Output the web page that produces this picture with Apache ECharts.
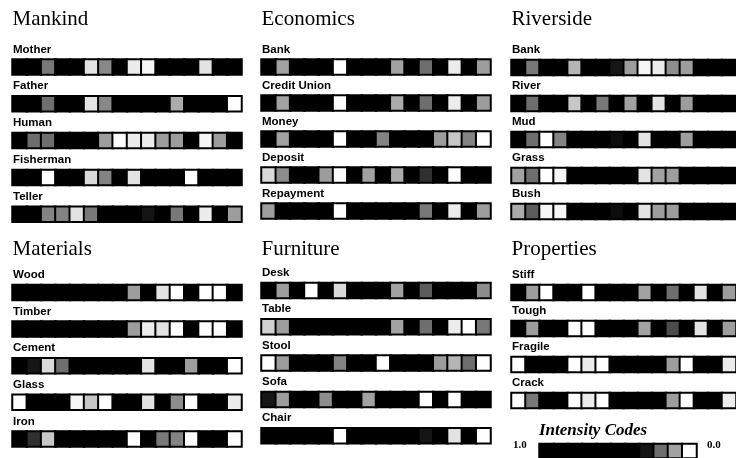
<!DOCTYPE html>
<html>
<head>
<meta charset="utf-8">
<script src="https://cdn.jsdelivr.net/npm/echarts@6/dist/echarts.min.js"></script>
<style>html,body{margin:0;padding:0;background:#fff;}#c{width:736px;height:458px;}</style>
</head>
<body>
<div id="c"></div>
<script>
// ---- data (intensity per unit: 1.0 = black, 0.0 = white) ----
const panelTitles = ['Mankind', 'Economics', 'Riverside', 'Materials', 'Furniture', 'Properties'];

const mankindWords = ['Mother', 'Father', 'Human', 'Fisherman', 'Teller'];
const mankindValues = [
  [1,1,0.18,1,1,0.03,0.15,1,0.02,0.01,1,1,1,0.03,1,1],
  [1,1,0.2,1,1,0.03,0.15,1,1,1,1,0.09,1,1,1,0],
  [1,0.2,0.2,1,1,1,0.11,0,0.02,0.02,0.11,0.11,1,0.01,0.11,1],
  [1,1,0,1,1,0.04,0.16,1,0.03,1,1,1,0,1,1,1],
  [1,1,0.16,0.16,0.03,0.18,1,1,1,0.31,1,0.18,1,0.02,1,0.11]
];

const economicsWords = ['Bank', 'Credit Union', 'Money', 'Deposit', 'Repayment'];
const economicsValues = [
  [1,0.1,1,1,1,0,1,1,1,0.1,1,0.2,1,0.02,1,0.11],
  [1,0.1,1,1,1,0,1,1,1,0.09,1,0.2,1,0.02,1,0.11],
  [1,0.1,1,1,1,0,1,1,0.16,1,1,1,0.11,0.06,0.16,0],
  [0.04,0.14,1,1,0.11,0,1,0.1,1,0.09,1,0.27,1,0,1,1],
  [0.11,1,1,1,1,0,1,1,1,1,1,0.18,1,0.02,1,0.11]
];

const riversideWords = ['Bank', 'River', 'Mud', 'Grass', 'Bush'];
const riversideValues = [
  [1,0.18,1,1,0.08,1,1,0.3,0.11,0.01,0.02,0.14,0.11,1,1,1],
  [1,0.2,1,1,0.06,1,0.18,1,0.1,1,0.03,1,0.11,1,1,1],
  [1,0.2,0,0.16,1,1,1,0.34,1,0.03,1,1,0.11,1,1,1],
  [0.1,0.2,0,0.01,1,1,1,1,1,0.03,0.1,0.11,1,1,1,1],
  [0.09,0.22,0.01,0.01,1,1,1,0.34,1,0.03,0.11,0.11,1,1,1,1]
];

const materialsWords = ['Wood', 'Timber', 'Cement', 'Glass', 'Iron'];
const materialsValues = [
  [1,1,1,1,1,1,1,1,0.11,1,0.03,0,1,0,0,1],
  [1,1,1,1,1,1,1,1,0.11,0.02,0.03,0,1,0,0,1],
  [1,0.3,0.04,0.2,1,1,1,1,1,0.03,1,1,0.11,1,1,0],
  [0,1,1,1,0.01,0.06,0,1,1,0.03,1,0.14,0,1,1,0.02],
  [1,0.27,0.06,1,1,1,1,1,0,1,0.18,0.16,0,1,1,0]
];

const furnitureWords = ['Desk', 'Table', 'Stool', 'Sofa', 'Chair'];
const furnitureValues = [
  [1,0.11,1,0,1,0.04,1,1,1,0.1,1,0.22,1,1,1,0.14],
  [0.05,0.11,1,1,1,1,1,1,1,0.1,1,0.2,1,0.02,0,0.18],
  [0,0.11,1,1,1,0.16,1,1,0,1,1,1,0.11,0.08,0.2,0],
  [0.3,0.11,1,1,0.14,1,1,0.1,1,1,1,0,1,0,1,1],
  [1,1,1,1,1,0,1,1,1,1,1,0.31,1,0.03,1,0]
];

const propertiesWords = ['Stiff', 'Tough', 'Fragile', 'Crack'];
const propertiesValues = [
  [1,0.11,0,1,1,0,1,1,1,0.1,1,0.2,1,0.03,1,0.11],
  [1,0.11,1,1,0,0,1,1,1,0.1,1,0.24,1,0.03,1,0.11],
  [0,1,1,1,0,0.02,0,1,1,1,1,0.11,0,1,1,0.02],
  [0,0.18,1,1,0,0.02,0,1,1,1,1,0.11,0,1,1,0.02]
];

const legendCodes = [1.0,0.9,0.8,0.7,0.6,0.5,0.4,0.3,0.2,0.1,0.0];
const legendTitle = 'Intensity Codes';
const legendEnds = ['1.0', '0.0'];

// ---- layout ----
const panels = [
  {words: mankindWords, values: mankindValues, x: 12.5, top: 59.5, pitch: 36.8, titleY: 25},
  {words: economicsWords, values: economicsValues, x: 261.5, top: 59.5, pitch: 36, titleY: 25},
  {words: riversideWords, values: riversideValues, x: 511.5, top: 60, pitch: 36, titleY: 25},
  {words: materialsWords, values: materialsValues, x: 12.5, top: 285, pitch: 36.6, titleY: 255.5},
  {words: furnitureWords, values: furnitureValues, x: 261.5, top: 283, pitch: 36.3, titleY: 255.5},
  {words: propertiesWords, values: propertiesValues, x: 511.5, top: 285, pitch: 36, titleY: 255.5}
];
const BAR_W = 229, BAR_H = 15;

const grids = [], xAxes = [], yAxes = [], series = [], graphics = [];
function addBar(left, top, width, height, vals) {
  const idx = grids.length;
  grids.push({left: left, top: top, width: width, height: height, show: true,
    backgroundColor: '#000', borderColor: '#000', borderWidth: 1, containLabel: false});
  xAxes.push({type: 'category', gridIndex: idx, data: vals.map((_, i) => i), show: false});
  yAxes.push({type: 'category', gridIndex: idx, data: ['r'], show: false});
  series.push({type: 'heatmap', xAxisIndex: idx, yAxisIndex: idx,
    data: vals.map((v, i) => [i, 0, v]),
    itemStyle: {borderColor: '#000', borderWidth: 2},
    emphasis: {disabled: true}, silent: true, animation: false});
}

panels.forEach((p, pi) => {
  graphics.push({type: 'text', x: p.x, y: p.titleY + 4.5, silent: true,
    style: {text: panelTitles[pi], font: '21px "Liberation Serif"', fill: '#000', textVerticalAlign: 'bottom'}});
  p.words.forEach((w, wi) => {
    const top = p.top + wi * p.pitch;
    graphics.push({type: 'text', x: p.x + 0.5, y: top - 7 + 3, silent: true,
      style: {text: w, font: 'bold 11.5px "Liberation Sans"', fill: '#000', textVerticalAlign: 'bottom'}});
    addBar(p.x, top, BAR_W, BAR_H, p.values[wi]);
  });
});

// legend bar
addBar(539.5, 444, 157, 15, legendCodes);
graphics.push({type: 'text', x: 539, y: 435 + 4, silent: true,
  style: {text: legendTitle, font: 'italic bold 17px "Liberation Serif"', fill: '#000', textVerticalAlign: 'bottom'}});
graphics.push({type: 'text', x: 513, y: 448 + 2.5, silent: true,
  style: {text: legendEnds[0], font: 'bold 11px "Liberation Serif"', fill: '#000', textVerticalAlign: 'bottom'}});
graphics.push({type: 'text', x: 707, y: 448 + 2.5, silent: true,
  style: {text: legendEnds[1], font: 'bold 11px "Liberation Serif"', fill: '#000', textVerticalAlign: 'bottom'}});

const chart = echarts.init(document.getElementById('c'), null, {renderer: 'canvas'});
chart.setOption({
  animation: false,
  backgroundColor: '#fff',
  grid: grids,
  xAxis: xAxes,
  yAxis: yAxes,
  visualMap: {
    type: 'continuous', show: false, min: 0, max: 1, dimension: 2,
    inRange: {color: ['#ffffff', '#a2a2a2', '#6e6e6e', '#161616', '#000000', '#000000', '#000000', '#000000', '#000000', '#000000', '#000000']}
  },
  series: series,
  graphic: graphics
});
</script>
</body>
</html>
